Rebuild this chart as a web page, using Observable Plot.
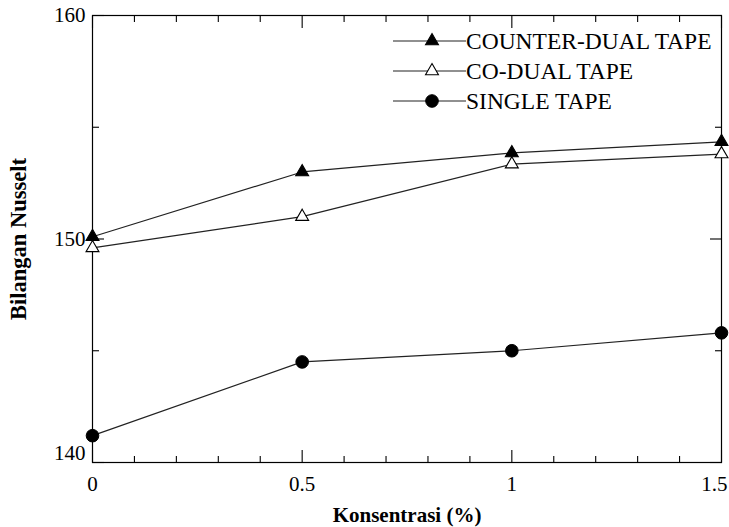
<!DOCTYPE html>
<html>
<head>
<meta charset="utf-8">
<script src="https://cdn.jsdelivr.net/npm/d3@7"></script>
<script src="https://cdn.jsdelivr.net/npm/@observablehq/plot@0.6"></script>
<style>
  html, body { margin: 0; padding: 0; background: #fff; }
  #wrap { position: relative; width: 729px; height: 527px; color: #000; }
  #legend { position: absolute; left: 393px; top: 26px; font-family: "Liberation Serif", "Times New Roman", serif; }
  .row { display: flex; align-items: center; height: 30px; font-size: 23.5px; line-height: 30px; white-space: nowrap; font-family: "Liberation Serif", serif; }
  .row svg { display: block; margin-right: 0px; }
</style>
</head>
<body>
<div id="wrap"></div>
<script>
const concentrations = [0, 0.5, 1, 1.5];
const counterDual = [150.1, 153.0, 153.85, 154.35];
const coDual = [149.6, 151.0, 153.35, 153.8];
const single = [141.2, 144.5, 145.0, 145.8];
const seriesNames = ["COUNTER-DUAL TAPE", "CO-DUAL TAPE", "SINGLE TAPE"];
const seriesSymbols = ["triangle", "triangle", "circle"];
const seriesFills = ["#000", "#fff", "#000"];
const xMajorTicks = [0, 0.5, 1, 1.5];
const xMinorTicks = [0.1, 0.2, 0.3, 0.4, 0.6, 0.7, 0.8, 0.9, 1.1, 1.2, 1.3, 1.4];
const yMajorTicks = [140, 150, 160];
const yMinorTicks = [145, 155];
const xTitle = "Konsentrasi (%)";
const yTitle = "Bilangan Nusselt";

const seriesValues = [counterDual, coDual, single];
const rows = [];
seriesNames.forEach((name, i) => {
  concentrations.forEach((c, j) => rows.push({series: name, conc: c, nu: seriesValues[i][j], idx: i}));
});

const tickFmt = d => String(d);
const common = {label: null};
const lastX = xMajorTicks[xMajorTicks.length - 1];
const firstY = yMajorTicks[0];

const chart = Plot.plot({
  width: 729,
  height: 527,
  marginLeft: 92,
  marginRight: 8,
  marginTop: 15,
  marginBottom: 65,
  style: {fontFamily: "Liberation Serif, Times New Roman, serif", fontSize: "21px", color: "#000", background: "#fff", overflow: "visible"},
  x: {domain: [0, 1.5]},
  y: {domain: [140, 160]},
  marks: [
    Plot.frame({stroke: "#000", strokeWidth: 1.2}),
    // major / minor ticks, inward, all four sides
    Plot.axisX({...common, anchor: "bottom", ticks: xMajorTicks, tickSize: -12, fill: "none", strokeWidth: 1.1}),
    Plot.axisX({...common, anchor: "top", ticks: xMajorTicks, tickSize: -12, fill: "none", strokeWidth: 1.1}),
    Plot.axisX({...common, anchor: "bottom", ticks: xMinorTicks, tickSize: -6, fill: "none", strokeWidth: 1.1}),
    Plot.axisX({...common, anchor: "top", ticks: xMinorTicks, tickSize: -6, fill: "none", strokeWidth: 1.1}),
    Plot.axisY({...common, anchor: "left", ticks: yMajorTicks, tickSize: -12, fill: "none", strokeWidth: 1.1}),
    Plot.axisY({...common, anchor: "right", ticks: yMajorTicks, tickSize: -12, fill: "none", strokeWidth: 1.1}),
    Plot.axisY({...common, anchor: "left", ticks: yMinorTicks, tickSize: -7, fill: "none", strokeWidth: 1.1}),
    Plot.axisY({...common, anchor: "right", ticks: yMinorTicks, tickSize: -7, fill: "none", strokeWidth: 1.1}),
    // tick labels
    Plot.axisX({...common, anchor: "bottom", ticks: xMajorTicks.filter(t => t !== lastX), tickSize: 0, tickPadding: 14, tickFormat: tickFmt, fontSize: 21}),
    Plot.axisX({...common, anchor: "bottom", ticks: [lastX], tickSize: 0, tickPadding: 14, tickFormat: tickFmt, fontSize: 21, textAnchor: "end", dx: 6}),
    Plot.axisY({...common, anchor: "left", ticks: yMajorTicks.filter(t => t !== firstY), tickSize: 0, tickPadding: 7, tickFormat: tickFmt, fontSize: 21}),
    Plot.axisY({...common, anchor: "left", ticks: [firstY], tickSize: 0, tickPadding: 7, tickFormat: tickFmt, fontSize: 21, dy: -9}),
    // axis titles
    Plot.text([xTitle], {frameAnchor: "bottom", dy: 59, fontWeight: "bold", fontSize: 21}),
    Plot.text([yTitle], {frameAnchor: "left", textAnchor: "middle", dx: -74, dy: 0, rotate: -90, fontWeight: "bold", fontSize: 22.5}),
    // data
    Plot.line(rows, {x: "conc", y: "nu", z: "series", stroke: "#222", strokeWidth: 1.2}),
    Plot.dot(rows.filter(d => seriesSymbols[d.idx] === "triangle"), {x: "conc", y: "nu", symbol: "triangle", r: 4.8,
      fill: d => seriesFills[d.idx], stroke: "#000", strokeWidth: 1.1}),
    Plot.dot(rows.filter(d => seriesSymbols[d.idx] === "circle"), {x: "conc", y: "nu", symbol: "circle", r: 6.3,
      fill: d => seriesFills[d.idx], stroke: "#000", strokeWidth: 1})
  ]
});

const wrap = document.getElementById("wrap");
wrap.appendChild(chart);

// legend
const legend = document.createElement("div");
legend.id = "legend";
seriesNames.forEach((name, i) => {
  const row = document.createElement("div");
  row.className = "row";
  const sym = seriesSymbols[i] === "triangle"
    ? `<path d="${d3.symbol(d3.symbolTriangle, Math.PI * 4.8 * 4.8)()}" transform="translate(39,15)" fill="${seriesFills[i]}" stroke="#000" stroke-width="1.1"/>`
    : `<circle cx="39" cy="15" r="6.3" fill="${seriesFills[i]}" stroke="#000"/>`;
  row.innerHTML = `<svg width="73" height="30"><line x1="0" x2="73" y1="15" y2="15" stroke="#222" stroke-width="1.2"/>${sym}</svg><span>${name}</span>`;
  legend.appendChild(row);
});
wrap.appendChild(legend);
</script>
</body>
</html>
